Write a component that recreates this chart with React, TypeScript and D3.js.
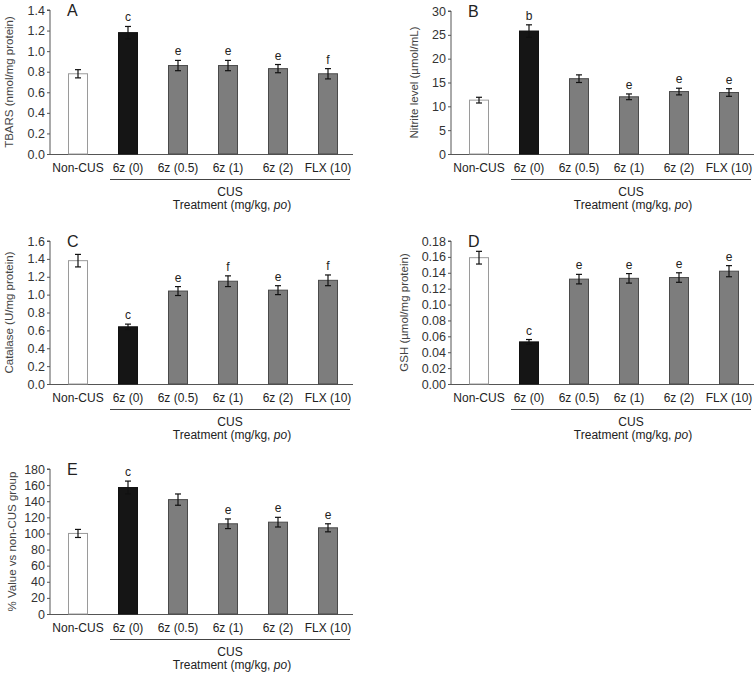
import * as d3 from 'd3'
import React, { useEffect, useRef } from 'react'

const groups = ['Non-CUS', '6z (0)', '6z (0.5)', '6z (1)', '6z (2)', 'FLX (10)']
const barKinds = ['white', 'black', 'grey', 'grey', 'grey', 'grey']

// A: TBARS
const tbarsMean = [0.78, 1.18, 0.86, 0.86, 0.83, 0.78]
const tbarsErr = [0.04, 0.06, 0.05, 0.05, 0.04, 0.05]
const tbarsSig = ['', 'c', 'e', 'e', 'e', 'f']
const tbarsTicks = [0, 0.2, 0.4, 0.6, 0.8, 1.0, 1.2, 1.4]

// B: nitrite
const nitriteMean = [11.3, 25.8, 15.8, 12.0, 13.1, 12.9]
const nitriteErr = [0.6, 1.3, 0.8, 0.6, 0.7, 0.8]
const nitriteSig = ['', 'b', '', 'e', 'e', 'e']
const nitriteTicks = [0, 5, 10, 15, 20, 25, 30]

// C: catalase
const catalaseMean = [1.38, 0.64, 1.04, 1.15, 1.05, 1.16]
const catalaseErr = [0.07, 0.03, 0.05, 0.06, 0.05, 0.06]
const catalaseSig = ['', 'c', 'e', 'f', 'e', 'f']
const catalaseTicks = [0, 0.2, 0.4, 0.6, 0.8, 1.0, 1.2, 1.4, 1.6]

// D: GSH
const gshMean = [0.159, 0.053, 0.132, 0.133, 0.134, 0.142]
const gshErr = [0.008, 0.003, 0.006, 0.006, 0.006, 0.007]
const gshSig = ['', 'c', 'e', 'e', 'e', 'e']
const gshTicks = [0, 0.02, 0.04, 0.06, 0.08, 0.1, 0.12, 0.14, 0.16, 0.18]

// E: % of non-CUS
const pctMean = [100, 157, 142, 112, 114, 107]
const pctErr = [5, 8, 7, 6, 6, 5]
const pctSig = ['', 'c', '', 'e', 'e', 'e']
const pctTicks = [0, 20, 40, 60, 80, 100, 120, 140, 160, 180]

const panels = [
    { key: 'A', mean: tbarsMean, err: tbarsErr, sig: tbarsSig, ticks: tbarsTicks, fmt: '.1f', label: 'TBARS (nmol/mg protein)', x: 50, top: 10, bottom: 154, labelX: 9 },
    { key: 'B', mean: nitriteMean, err: nitriteErr, sig: nitriteSig, ticks: nitriteTicks, fmt: 'd', label: 'Nitrite level (µmol/mL)', x: 451, top: 11, bottom: 154, labelX: 414 },
    { key: 'C', mean: catalaseMean, err: catalaseErr, sig: catalaseSig, ticks: catalaseTicks, fmt: '.1f', label: 'Catalase (U/mg protein)', x: 50, top: 241, bottom: 384, labelX: 9 },
    { key: 'D', mean: gshMean, err: gshErr, sig: gshSig, ticks: gshTicks, fmt: '.2f', label: 'GSH (µmol/mg protein)', x: 451, top: 241, bottom: 384, labelX: 404 },
    { key: 'E', mean: pctMean, err: pctErr, sig: pctSig, ticks: pctTicks, fmt: 'd', label: '% Value vs non-CUS group', x: 50, top: 469, bottom: 614, labelX: 12 },
]

const fill: Record<string, string> = { white: '#ffffff', black: '#151515', grey: '#7d7d7d' }
const stroke: Record<string, string> = { white: '#9a9a9a', black: '#111', grey: '#4a4a4a' }

const App = (): JSX.Element => {
    const ref = useRef<SVGSVGElement>(null)

    useEffect(() => {
        const svg = d3.select(ref.current)
        svg.selectAll('*').remove()
        const font = '"Liberation Sans", Arial, sans-serif'

        panels.forEach((p) => {
            const g = svg.append('g')
            const axisLen = 303
            const x = d3
                .scaleBand()
                .domain(groups)
                .range([p.x + 3, p.x + axisLen])
                .paddingInner(0.6)
                .paddingOuter(0.3)
            const ymax = p.ticks[p.ticks.length - 1]
            const y = d3.scaleLinear().domain([0, ymax]).range([p.bottom, p.top])

            // y axis
            const yAxis = d3
                .axisLeft(y)
                .tickValues(p.ticks)
                .tickSize(3)
                .tickPadding(2)
                .tickFormat(d3.format(p.fmt) as any)
            const ya = g.append('g').attr('transform', `translate(${p.x},0)`).call(yAxis)
            ya.select('.domain').attr('stroke', '#555').attr('d', `M-3,${p.top}H0V${p.bottom}`)
            ya.selectAll('.tick line').attr('stroke', '#555')
            ya.selectAll('.tick text')
                .attr('fill', '#333')
                .style('font-family', font)
                .style('font-size', '12.5px')

            // x axis line
            g.append('line')
                .attr('x1', p.x)
                .attr('x2', p.x + axisLen)
                .attr('y1', p.bottom + 0.5)
                .attr('y2', p.bottom + 0.5)
                .attr('stroke', '#555')
                .attr('stroke-width', 1)

            // bars
            groups.forEach((grp, i) => {
                const bx = x(grp) as number
                const kind = barKinds[i]
                g.append('rect')
                    .attr('x', bx + 0.5)
                    .attr('y', y(p.mean[i]))
                    .attr('width', x.bandwidth() - 1)
                    .attr('height', p.bottom - y(p.mean[i]))
                    .attr('fill', fill[kind])
                    .attr('stroke', stroke[kind])
                    .attr('stroke-width', 1)

                const cx = bx + x.bandwidth() / 2
                const hi = y(p.mean[i] + p.err[i])
                const lo = y(p.mean[i] - p.err[i])
                const eb = g.append('g').attr('stroke', '#111').attr('stroke-width', 1.2)
                eb.append('line').attr('x1', cx).attr('x2', cx).attr('y1', hi).attr('y2', lo)
                eb.append('line').attr('x1', cx - 3).attr('x2', cx + 3).attr('y1', hi).attr('y2', hi)
                eb.append('line').attr('x1', cx - 3).attr('x2', cx + 3).attr('y1', lo).attr('y2', lo)

                if (p.sig[i]) {
                    g.append('text')
                        .attr('x', cx)
                        .attr('y', hi - 5)
                        .attr('text-anchor', 'middle')
                        .attr('fill', '#222')
                        .style('font-family', font)
                        .style('font-size', '12px')
                        .text(p.sig[i])
                }

                g.append('text')
                    .attr('x', cx)
                    .attr('y', p.bottom + 18)
                    .attr('text-anchor', 'middle')
                    .attr('fill', '#222')
                    .style('font-family', font)
                    .style('font-size', '12px')
                    .text(grp)
            })

            // CUS bracket
            const c0 = (x(groups[1]) as number) + x.bandwidth() / 2 - 18
            const c1 = p.x + axisLen - 3
            g.append('line')
                .attr('x1', c0)
                .attr('x2', c1)
                .attr('y1', p.bottom + 25.5)
                .attr('y2', p.bottom + 25.5)
                .attr('stroke', '#444')
                .attr('stroke-width', 1)
            const mid = (c0 + c1) / 2
            g.append('text')
                .attr('x', mid)
                .attr('y', p.bottom + 42)
                .attr('text-anchor', 'middle')
                .attr('fill', '#222')
                .style('font-family', font)
                .style('font-size', '12px')
                .text('CUS')
            const t = g
                .append('text')
                .attr('x', mid + 2)
                .attr('y', p.bottom + 55)
                .attr('text-anchor', 'middle')
                .attr('fill', '#222')
                .style('font-family', font)
                .style('font-size', '12px')
            t.append('tspan').text('Treatment (mg/kg, ')
            t.append('tspan').attr('font-style', 'italic').text('po')
            t.append('tspan').text(')')

            // y label
            g.append('text')
                .attr('transform', `translate(${p.labelX},${(p.top + p.bottom) / 2}) rotate(-90)`)
                .attr('text-anchor', 'middle')
                .attr('dy', '0.35em')
                .attr('fill', '#444')
                .style('font-family', font)
                .style('font-size', '11.5px')
                .text(p.label)

            // panel letter
            g.append('text')
                .attr('x', p.x + 17)
                .attr('y', p.top + 6)
                .attr('fill', '#222')
                .style('font-family', font)
                .style('font-size', '16px')
                .text(p.key)
        })
    }, [])

    return (
        <div style={{ position: 'absolute', left: 0, top: 0 }}>
            <svg ref={ref} width={755} height={675} style={{ display: 'block', background: '#fff' }} />
        </div>
    )
}

export default App
